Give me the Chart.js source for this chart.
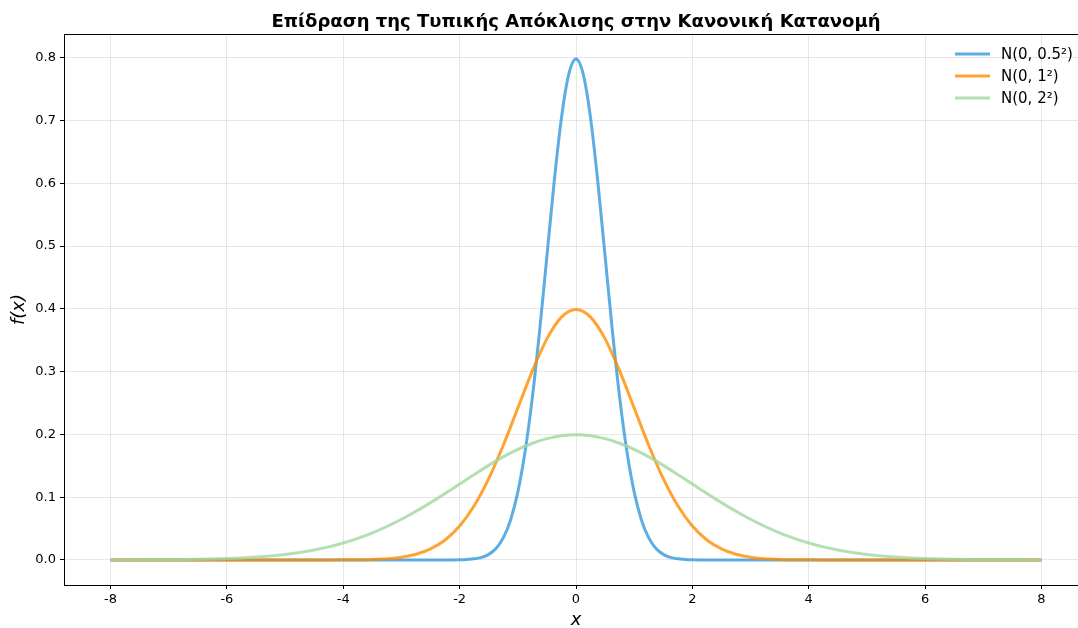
<!DOCTYPE html>
<html>
<head>
<meta charset="utf-8">
<script src="https://cdn.jsdelivr.net/npm/chart.js@4.4.0/dist/chart.umd.min.js"></script>
<style>
  html, body { margin: 0; padding: 0; background: #fff; overflow: hidden; }
  #wrap { width: 1088px; height: 628px; }
</style>
</head>
<body>
<div id="wrap"><canvas id="c" width="1088" height="628"></canvas></div>
<script>
const titleText = "Επίδραση της Τυπικής Απόκλισης στην Κανονική Κατανομή";
const seriesLabels = ["N(0, 0.5²)", "N(0, 1²)", "N(0, 2²)"];
const seriesColors = ["rgba(52,152,219,0.8)", "rgba(255,140,0,0.8)", "rgba(160,215,160,0.8)"];

// x positions for the narrow curve (finer near the peak)
const xNarrow = [
  -8, -2.5, -2.375, -2.25, -2.125, -2, -1.875, -1.75, -1.625, -1.5, -1.375, -1.25, -1.125, -1, -0.875, -0.75, -0.625, -0.5, -0.375, -0.25, -0.125,
  0,
  0.125, 0.25, 0.375, 0.5, 0.625, 0.75, 0.875, 1, 1.125, 1.25, 1.375, 1.5, 1.625, 1.75, 1.875, 2, 2.125, 2.25, 2.375, 2.5, 8
];
const sigmaHalf = [
  0, 0.000003, 0.00001, 0.000032, 0.0000954, 0.000268, 0.000705, 0.001745, 0.004058, 0.008864, 0.01819, 0.03506, 0.06348, 0.1080, 0.1726, 0.2590, 0.3653, 0.4839, 0.6023, 0.7041, 0.7733,
  0.7979,
  0.7733, 0.7041, 0.6023, 0.4839, 0.3653, 0.2590, 0.1726, 0.1080, 0.06348, 0.03506, 0.01819, 0.008864, 0.004058, 0.001745, 0.000705, 0.000268, 0.0000954, 0.000032, 0.00001, 0.000003, 0
];

// x positions for the wider curves
const xValues = [
  -8, -7.75, -7.5, -7.25, -7, -6.75, -6.5, -6.25, -6, -5.75, -5.5, -5.25, -5, -4.75, -4.5, -4.25,
  -4, -3.75, -3.5, -3.25, -3, -2.75, -2.5, -2.25, -2, -1.75, -1.5, -1.25, -1, -0.75, -0.5, -0.25,
  0,
  0.25, 0.5, 0.75, 1, 1.25, 1.5, 1.75, 2, 2.25, 2.5, 2.75, 3, 3.25, 3.5, 3.75,
  4, 4.25, 4.5, 4.75, 5, 5.25, 5.5, 5.75, 6, 6.25, 6.5, 6.75, 7, 7.25, 7.5, 7.75, 8
];

const sigmaOne = [
  0, 0, 0, 0, 0, 0, 0, 0, 0, 0, 0, 0, 0.0000015, 0.000005, 0.000016, 0.000048,
  0.000134, 0.000353, 0.000873, 0.002029, 0.004432, 0.009094, 0.01753, 0.03174, 0.05399, 0.08628, 0.1295, 0.1826, 0.2420, 0.3011, 0.3521, 0.3867,
  0.3989,
  0.3867, 0.3521, 0.3011, 0.2420, 0.1826, 0.1295, 0.08628, 0.05399, 0.03174, 0.01753, 0.009094, 0.004432, 0.002029, 0.000873, 0.000353,
  0.000134, 0.000048, 0.000016, 0.000005, 0.0000015, 0, 0, 0, 0, 0, 0, 0, 0, 0, 0, 0, 0
];

const sigmaTwo = [
  0.0000669, 0.000110, 0.000176, 0.000279, 0.000436, 0.000671, 0.001014, 0.001511, 0.002216, 0.003199, 0.004547, 0.006363, 0.008764, 0.01188, 0.01587, 0.02086,
  0.02700, 0.03439, 0.04314, 0.05327, 0.06476, 0.07751, 0.09132, 0.1059, 0.1210, 0.1360, 0.1506, 0.1641, 0.1760, 0.1859, 0.1933, 0.1979,
  0.1995,
  0.1979, 0.1933, 0.1859, 0.1760, 0.1641, 0.1506, 0.1360, 0.1210, 0.1059, 0.09132, 0.07751, 0.06476, 0.05327, 0.04314, 0.03439,
  0.02700, 0.02086, 0.01587, 0.01188, 0.008764, 0.006363, 0.004547, 0.003199, 0.002216, 0.001511, 0.001014, 0.000671, 0.000436, 0.000279, 0.000176, 0.000110, 0.0000669
];

const xTicks = [-8, -6, -4, -2, 0, 2, 4, 6, 8];
const yTicks = [0, 0.1, 0.2, 0.3, 0.4, 0.5, 0.6, 0.7, 0.8];

const seriesX = [xNarrow, xValues, xValues];
const seriesValues = [sigmaHalf, sigmaOne, sigmaTwo];

const FONT = "'DejaVu Sans', sans-serif";

const datasets = seriesValues.map((vals, i) => ({
  label: seriesLabels[i],
  data: seriesX[i].map((x, j) => ({ x: x, y: vals[j] })),
  borderColor: seriesColors[i],
  backgroundColor: seriesColors[i],
  borderWidth: 3,
  pointRadius: 0,
  fill: false,
  cubicInterpolationMode: 'monotone',
  order: 2 - i
}));

const framePlugin = {
  id: 'frame',
  afterDraw(chart) {
    const { ctx, chartArea: a } = chart;
    ctx.save();
    ctx.strokeStyle = '#000';
    ctx.lineWidth = 1;
    ctx.strokeRect(Math.round(a.left) + 0.5, Math.round(a.top) + 0.5, Math.round(a.right - a.left), Math.round(a.bottom - a.top));
    // title
    ctx.fillStyle = '#000';
    ctx.font = "bold 18px " + FONT;
    ctx.textAlign = 'center';
    ctx.textBaseline = 'alphabetic';
    ctx.fillText(titleText, (a.left + a.right) / 2, 27);
    // legend
    ctx.font = "15px " + FONT;
    ctx.textAlign = 'left';
    ctx.textBaseline = 'middle';
    const lx = 955, ly = 54, dy = 22;
    chart.data.datasets.forEach((ds, i) => {
      const y = ly + i * dy;
      ctx.strokeStyle = ds.borderColor;
      ctx.lineWidth = 3;
      ctx.beginPath();
      ctx.moveTo(lx, y);
      ctx.lineTo(lx + 35, y);
      ctx.stroke();
      ctx.fillStyle = '#000';
      ctx.fillText(ds.label, lx + 46, y + 1);
    });
    ctx.restore();
  }
};

new Chart(document.getElementById('c'), {
  type: 'line',
  data: { datasets },
  options: {
    responsive: false,
    animation: false,
    devicePixelRatio: 1,
    layout: { padding: { top: 34, right: 0, left: 0, bottom: 0 } },
    plugins: {
      legend: { display: false },
      title: { display: false },
      tooltip: { enabled: false }
    },
    scales: {
      x: {
        type: 'linear',
        min: -8.8,
        max: 8.8,
        afterBuildTicks: (s) => { s.ticks = xTicks.map(v => ({ value: v })); },
        afterFit: (s) => { s.height = 43; },
        ticks: {
          color: '#000',
          font: { family: FONT, size: 13 },
          padding: 3,
          maxRotation: 0,
          callback: (v) => String(v)
        },
        grid: {
          color: 'rgba(176,176,176,0.3)',
          tickColor: '#000',
          tickLength: 4,
          drawTicks: true
        },
        border: { display: false },
        title: {
          display: true,
          text: 'x',
          color: '#000',
          font: { family: FONT, size: 18, style: 'italic', lineHeight: 0.9 },
          padding: { top: 0, bottom: 0 }
        }
      },
      y: {
        type: 'linear',
        min: -0.0399,
        max: 0.8377,
        afterBuildTicks: (s) => { s.ticks = yTicks.map(v => ({ value: v })); },
        afterFit: (s) => { s.width = 64; },
        ticks: {
          color: '#000',
          font: { family: FONT, size: 13 },
          padding: 4,
          callback: (v) => Number(v).toFixed(1)
        },
        grid: {
          color: 'rgba(176,176,176,0.3)',
          tickColor: '#000',
          tickLength: 4,
          drawTicks: true
        },
        border: { display: false },
        title: {
          display: true,
          text: 'f(x)',
          color: '#000',
          font: { family: FONT, size: 18, style: 'italic' },
          padding: { top: 9, bottom: 0 }
        }
      }
    }
  },
  plugins: [framePlugin]
});
</script>
</body>
</html>
